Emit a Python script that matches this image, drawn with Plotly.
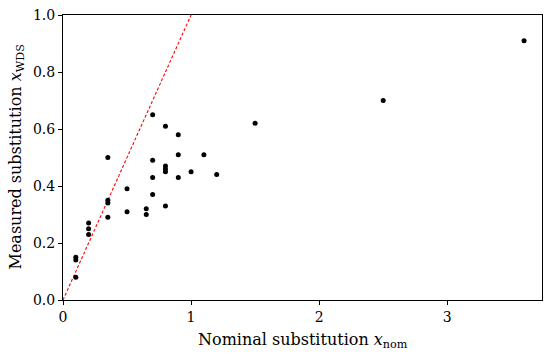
import plotly.graph_objects as go

x_nom = [0.7, 0.8, 0.9, 0.35, 0.9, 1.1, 0.7, 0.8, 0.8, 0.8, 1.0, 1.2, 0.7, 0.9,
         0.5, 0.7, 0.35, 0.35, 0.8, 0.65, 0.5, 0.65, 0.35, 0.2, 0.2, 0.2,
         0.1, 0.1, 0.1, 1.5, 2.5, 3.6]
x_wds = [0.65, 0.61, 0.58, 0.50, 0.51, 0.51, 0.49, 0.47, 0.46, 0.45, 0.45, 0.44, 0.43, 0.43,
         0.39, 0.37, 0.35, 0.34, 0.33, 0.32, 0.31, 0.30, 0.29, 0.27, 0.25, 0.23,
         0.15, 0.14, 0.08, 0.62, 0.70, 0.91]
ref_x = [0, 1]
ref_y = [0, 1]

x_ticks = [0, 1, 2, 3]
y_ticks = [0.0, 0.2, 0.4, 0.6, 0.8, 1.0]

font_family = "DejaVu Serif"

fig = go.Figure()
fig.add_trace(go.Scatter(x=ref_x, y=ref_y, mode="lines",
                         line=dict(color="red", width=1.1, dash="3px,2px"),
                         showlegend=False, hoverinfo="skip"))
fig.add_trace(go.Scatter(x=x_nom, y=x_wds, mode="markers",
                         marker=dict(color="black", size=5),
                         showlegend=False))

axis_common = dict(showline=True, linecolor="black", linewidth=1, mirror=True,
                   ticks="outside", ticklen=4, tickcolor="black", tickwidth=1,
                   showgrid=False, zeroline=False, automargin=False,
                   tickfont=dict(family=font_family, size=14, color="black"))

fig.update_xaxes(range=[0, 3.74], tickvals=x_ticks, ticktext=[str(v) for v in x_ticks],
                 **axis_common)
fig.update_yaxes(range=[0, 1.0], tickvals=y_ticks, ticktext=[f"{v:.1f}" for v in y_ticks],
                 **axis_common)

title_font = dict(family=font_family, size=16, color="black")
fig.add_annotation(text="Nominal substitution <i>x</i><sub>nom</sub>",
                   xref="paper", yref="paper", x=0.5, y=0, yshift=-28,
                   xanchor="center", yanchor="top", showarrow=False, font=title_font)
fig.add_annotation(text="Measured substitution <i>x</i><sub>WDS</sub>",
                   xref="paper", yref="paper", x=0, y=0.5, xshift=-47,
                   xanchor="center", yanchor="middle", textangle=-90,
                   showarrow=False, font=title_font)

fig.update_layout(width=550, height=358,
                  margin=dict(l=63, r=8, t=15, b=58),
                  plot_bgcolor="white", paper_bgcolor="white")

fig.write_html("out.html", config={"displayModeBar": False},
               post_script="document.body.style.margin='0';")
